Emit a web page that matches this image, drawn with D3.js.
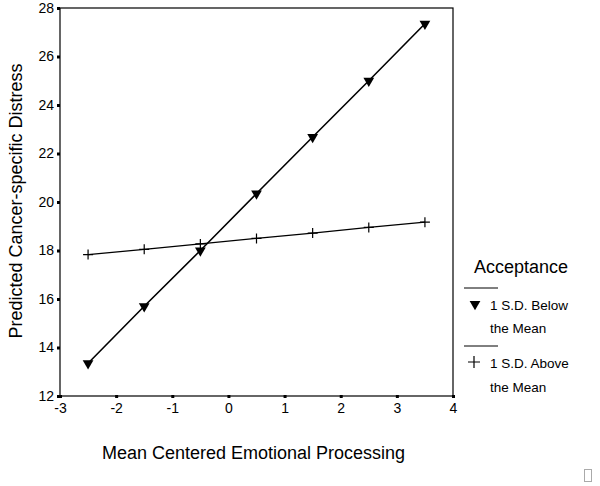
<!DOCTYPE html>
<html>
<head>
<meta charset="utf-8">
<script src="https://cdn.jsdelivr.net/npm/d3@7"></script>
<style>
  body { margin: 0; background: #fff; }
  svg { font-family: "Liberation Sans", Arial, sans-serif; }
</style>
</head>
<body>
<div id="chart"></div>
<script>
var xValues = [-2.5, -1.5, -0.5, 0.5, 1.5, 2.5, 3.5];
var belowMean = [13.35, 15.7, 18.0, 20.35, 22.68, 25.0, 27.35];
var aboveMean = [17.83, 18.05, 18.27, 18.5, 18.72, 18.95, 19.17];
var xTicks = [-3, -2, -1, 0, 1, 2, 3, 4];
var yTicks = [12, 14, 16, 18, 20, 22, 24, 26, 28];

var W = 600, H = 486;
var margin = {top: 8, right: 147, bottom: 90, left: 60}
  , width = W - margin.left - margin.right
  , height = H - margin.top - margin.bottom;

var svg = d3.select("#chart").append("svg")
    .attr("width", W)
    .attr("height", H);

var g = svg.append("g")
    .attr("transform", "translate(" + margin.left + "," + margin.top + ")");

var xScale = d3.scaleLinear().domain([-3, 4]).range([0, width]);
var yScale = d3.scaleLinear().domain([12, 28]).range([height, 0]);

// plain hyphen for negatives, like the original
var fmt = function(d) { return String(d); };

// frame
g.append("rect")
    .attr("x", 0).attr("y", 0)
    .attr("width", width).attr("height", height)
    .attr("fill", "none")
    .attr("stroke", "#000")
    .attr("stroke-width", 1.2);

// x axis with square ticks
var xAxis = g.append("g")
    .attr("transform", "translate(0," + height + ")")
    .call(d3.axisBottom(xScale).tickValues(xTicks).tickSize(0).tickPadding(7).tickFormat(fmt));
xAxis.select(".domain").remove();
xAxis.selectAll("text").style("font-size", "14px").attr("fill", "#000");
xAxis.selectAll(".tick").append("rect")
    .attr("x", -1.5).attr("y", -1).attr("width", 3).attr("height", 3).attr("fill", "#000");

var yAxis = g.append("g")
    .call(d3.axisLeft(yScale).tickValues(yTicks).tickSize(0).tickPadding(6).tickFormat(fmt));
yAxis.select(".domain").remove();
yAxis.selectAll("text").style("font-size", "14px").attr("fill", "#000");
yAxis.selectAll(".tick").append("rect")
    .attr("x", -3).attr("y", -1.5).attr("width", 3).attr("height", 3).attr("fill", "#000");

// axis titles
svg.append("text")
    .attr("x", margin.left + width / 2 - 3)
    .attr("y", 459)
    .attr("text-anchor", "middle")
    .style("font-size", "18px")
    .text("Mean Centered Emotional Processing");

svg.append("text")
    .attr("transform", "translate(22," + (margin.top + height / 2 - 1) + ") rotate(-90)")
    .attr("text-anchor", "middle")
    .style("font-size", "18px")
    .text("Predicted Cancer-specific Distress");

// lines
var line = d3.line()
    .x(function(d) { return xScale(d[0]); })
    .y(function(d) { return yScale(d[1]); });

var belowData = xValues.map(function(x, i) { return [x, belowMean[i]]; });
var aboveData = xValues.map(function(x, i) { return [x, aboveMean[i]]; });

g.append("path").datum(aboveData)
    .attr("d", line).attr("fill", "none").attr("stroke", "#000").attr("stroke-width", 1.3);
g.append("path").datum(belowData)
    .attr("d", line).attr("fill", "none").attr("stroke", "#000").attr("stroke-width", 1.6);

var tri = d3.symbol().type(d3.symbolTriangle).size(50);
g.selectAll(".tri").data(belowData).enter().append("path")
    .attr("class", "tri")
    .attr("d", tri)
    .attr("transform", function(d) { return "translate(" + xScale(d[0]) + "," + yScale(d[1]) + ") rotate(180)"; })
    .attr("fill", "#000");

g.selectAll(".plus").data(aboveData).enter().append("path")
    .attr("class", "plus")
    .attr("d", "M-5,0H5M0,-5V5")
    .attr("transform", function(d) { return "translate(" + xScale(d[0]) + "," + yScale(d[1]) + ")"; })
    .attr("stroke", "#000")
    .attr("stroke-width", 1.2);

// legend
var leg = svg.append("g");
leg.append("text").attr("x", 474).attr("y", 273).style("font-size", "18px").text("Acceptance");
leg.append("line").attr("x1", 464).attr("x2", 498).attr("y1", 288).attr("y2", 288).attr("stroke", "#000");
leg.append("path").attr("d", tri).attr("transform", "translate(475,304) rotate(180)").attr("fill", "#000");
leg.append("text").attr("x", 490).attr("y", 310).style("font-size", "13.5px").text("1 S.D. Below");
leg.append("text").attr("x", 490).attr("y", 333).style("font-size", "13.5px").text("the Mean");
leg.append("line").attr("x1", 464).attr("x2", 498).attr("y1", 346).attr("y2", 346).attr("stroke", "#000");
leg.append("path").attr("d", "M-6,0H6M0,-6V6").attr("transform", "translate(474,362)").attr("stroke", "#000").attr("stroke-width", 1.2);
leg.append("text").attr("x", 490).attr("y", 368).style("font-size", "13.5px").text("1 S.D. Above");
leg.append("text").attr("x", 490).attr("y", 392).style("font-size", "13.5px").text("the Mean");

// small placeholder box bottom right
svg.append("rect").attr("x", 584.5).attr("y", 469.5).attr("width", 7).attr("height", 12)
    .attr("fill", "none").attr("stroke", "#aaa").attr("stroke-width", 1);
</script>
</body>
</html>
